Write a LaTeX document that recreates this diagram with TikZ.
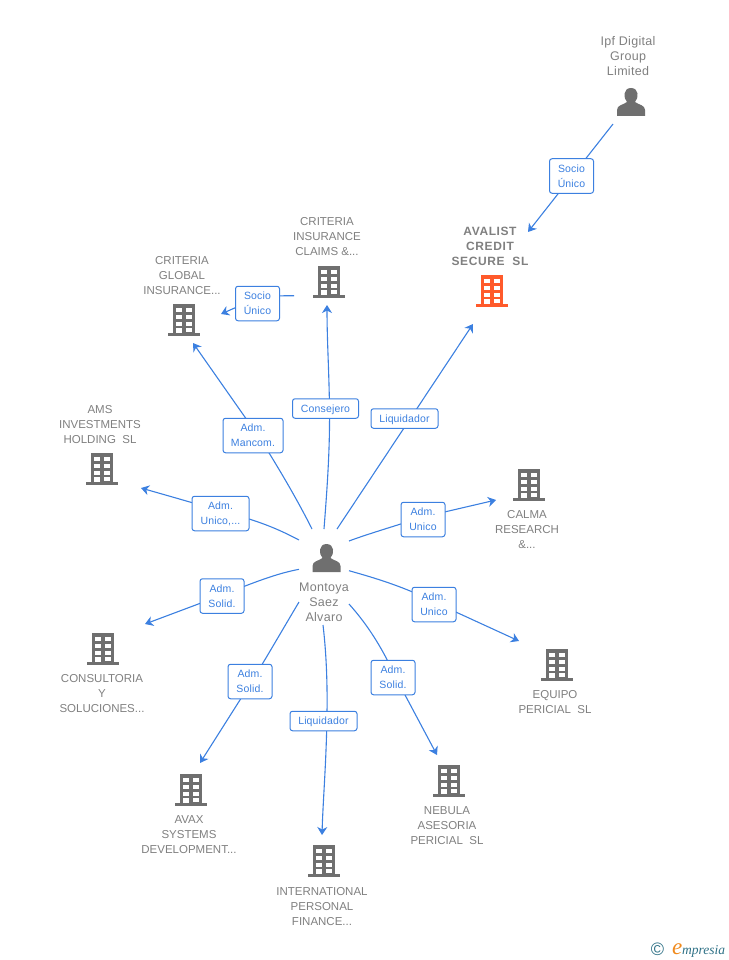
\documentclass[tikz,border=0pt]{standalone}
\usepackage{fontspec}
\setmainfont{Liberation Sans}
\newfontfamily\logofont{Liberation Serif}
\usetikzlibrary{arrows.meta}
\pgfdeclarelayer{edges}
\pgfsetlayers{edges,main}
\definecolor{linkblue}{HTML}{3C80E0}
\definecolor{labeltext}{HTML}{808080}
\definecolor{iconcol}{HTML}{6F6F6F}
\definecolor{mainicon}{HTML}{FF5A2B}
\definecolor{logoteal}{HTML}{2F7186}
\definecolor{logoorange}{HTML}{F08A1D}
\tikzset{
  x=1pt,y=-1pt,
  name text/.style={text=labeltext,yshift=-0.8pt,font=\fontsize{11.5}{15}\selectfont,align=center,inner sep=0pt},
  person text/.style={name text,font=\fontsize{12.5}{15}\selectfont\addfontfeatures{LetterSpace=2.5}},
  main text/.style={text=labeltext,yshift=-0.5pt,font=\fontsize{12}{15}\selectfont\bfseries\addfontfeatures{LetterSpace=5},align=center,inner sep=0pt},
  rel/.style={draw=linkblue,text=linkblue,fill=white,rounded corners=2.5pt,line width=1pt,
     font=\fontsize{10.5}{15}\selectfont\addfontfeatures{LetterSpace=1.5},align=center,inner sep=0pt,
     execute at begin node={\rule{0pt}{10pt}}},
  rel two/.style={rel,minimum width=44pt,minimum height=34.5pt},
  rel one/.style={rel,minimum width=66pt,minimum height=19.5pt},
  link/.style={draw=linkblue,line width=1.1pt,-{Stealth[length=8pt,width=10pt,inset=2.5pt]}},
  pics/building/.style={code={
    \fill[#1] (-11,-16) rectangle (11,13);
    \fill[#1] (-16,13) rectangle (16,16);
    \foreach \yy in {-12,-5,2}{
      \fill[white] (-8,\yy) rectangle (-2,\yy+4);
      \fill[white] (2,\yy) rectangle (8,\yy+4);}
    \fill[white] (2,8) rectangle (8,12);
    \fill[white] (-8,8) rectangle (-2,13);
  }},
  pics/person/.style={code={
    \fill[#1] (-14,14) -- (-14,8) .. controls (-14,3) and (-8,3) .. (-4,0)
      .. controls (-8,-4) and (-8,-14) .. (0,-14)
      .. controls (8,-14) and (8,-4) .. (4,0)
      .. controls (8,3) and (14,3) .. (14,8) -- (14,14) -- cycle;
  }},
}
\begin{document}
\begin{tikzpicture}
\useasboundingbox (0,0) rectangle (728,960);
% icons
\pic at (631,102) {person=iconcol};
\pic at (326.5,558) {person=iconcol};
\pic at (329,282) {building=iconcol};
\pic at (184,320) {building=iconcol};
\pic at (492,291) {building=mainicon};
\pic at (102,469) {building=iconcol};
\pic at (529,485) {building=iconcol};
\pic at (103,649) {building=iconcol};
\pic at (557,665) {building=iconcol};
\pic at (449,781) {building=iconcol};
\pic at (191,790) {building=iconcol};
\pic at (324,861) {building=iconcol};
% names
\node[person text] (ipf) at (628,55) {Ipf Digital\\Group\\Limited};
\node[main text] (avalist) at (490,246) {AVALIST\\CREDIT\\SECURE\ \ SL};
\node[name text] (claims) at (327,236) {CRITERIA\\INSURANCE\\CLAIMS \&...};
\node[name text] (global) at (182,275) {CRITERIA\\GLOBAL\\INSURANCE...};
\node[name text] (ams) at (100,424) {AMS\\INVESTMENTS\\HOLDING\ \ SL};
\node[name text] (calma) at (527,529) {CALMA\\RESEARCH\\\&...};
\node[name text] (consult) at (102,693) {CONSULTORIA\\Y\\SOLUCIONES...};
\node[name text] (equipo) at (555,701.5) {EQUIPO\\PERICIAL\ \ SL};
\node[name text] (nebula) at (447,825) {NEBULA\\ASESORIA\\PERICIAL\ \ SL};
\node[name text] (avax) at (189,834) {AVAX\\SYSTEMS\\DEVELOPMENT...};
\node[name text] (ipfin) at (322,906) {INTERNATIONAL\\PERSONAL\\FINANCE...};
\node[person text] (montoya) at (324,601) {Montoya\\Saez\\Alvaro};
% relation labels
\node[rel two] (r1) at (571.5,176) {Socio\\Único};
\node[rel two] (r2) at (257.5,303.5) {Socio\\Único};
\node[rel one] (r3) at (325.5,408.5) {Consejero};
\node[rel two,minimum width=60pt] (r4) at (253,435.5) {Adm.\\Mancom.};
\node[rel one,minimum width=67pt] (r5) at (404.5,418.5) {Liquidador};
\node[rel two] (r6) at (423,519.5) {Adm.\\Unico};
\node[rel two,minimum width=57pt] (r7) at (220.5,513.5) {Adm.\\Unico,...};
\node[rel two] (r8) at (222,596) {Adm.\\Solid.};
\node[rel two] (r9) at (250,681.5) {Adm.\\Solid.};
\node[rel one,minimum width=67pt] (r10) at (323.5,721) {Liquidador};
\node[rel two] (r11) at (393,677.5) {Adm.\\Solid.};
\node[rel two] (r12) at (434,604.5) {Adm.\\Unico};
% connector ends
\coordinate (s1) at (613,124);   \coordinate (t1) at (528,232);
\coordinate (s2) at (294,295.7); \coordinate (t2) at (221,314);
\coordinate (s3) at (324,529);   \coordinate (t3) at (327,305);
\coordinate (s4) at (312,529);   \coordinate (t4) at (193,343);
\coordinate (s5) at (337,529);   \coordinate (t5) at (473,324);
\coordinate (s6) at (349,541);   \coordinate (t6) at (496,500);
\coordinate (s7) at (299,540);   \coordinate (t7) at (141,488);
\coordinate (s8) at (299,569.3); \coordinate (t8) at (145,624);
\coordinate (s9) at (299,602);   \coordinate (t9) at (200,763);
\coordinate (s10) at (323,625);  \coordinate (t10) at (322,835);
\coordinate (s11) at (349,604);  \coordinate (t11) at (437,755);
\coordinate (s12) at (349,570.7);\coordinate (t12) at (519,641);
\begin{pgfonlayer}{edges}
\draw[link] (s1) -- (t1);
\draw[link] (s2) -- (262,296) -- (t2);
\draw[link] (s3) .. controls (327,490) and (330,450) .. (329.5,408) .. controls (329,370) and (327,340) .. (t3);
\draw[link] (s4) .. controls (300,505) and (283,475) .. (261,440) -- (t4);
\draw[link] (s5) -- (t5);
\draw[link] (s6) .. controls (365,535) and (385,529) .. (423,517) -- (t6);
\draw[link] (s7) .. controls (280,530) and (262,522) .. (230,513.5) -- (t7);
\draw[link] (s8) .. controls (280,573) and (262,579) .. (225,594) -- (t8);
\draw[link] (s9) .. controls (280,634) and (265,660) .. (252,681) -- (t9);
\draw[link] (s10) .. controls (326,650) and (327.5,680) .. (327,712) .. controls (326.5,760) and (323,800) .. (t10);
\draw[link] (s11) .. controls (365,622) and (380,643) .. (396,678) -- (t11);
\draw[link] (s12) .. controls (375,578) and (405,587) .. (434,602) -- (t12);
\end{pgfonlayer}
% logo
\node[inner sep=0pt,text=logoteal,font=\fontsize{18}{18}\selectfont] (copyr) at (657.5,949) {©};
\node[inner sep=0pt,anchor=base west,text=logoorange,font=\logofont\itshape\fontsize{23}{23}\selectfont] (loge) at (672,954) {e};
\node[inner sep=0pt,anchor=base west,text=logoteal,font=\logofont\itshape\fontsize{13.5}{14}\selectfont] (logt) at (682,954) {mpresia};
\end{tikzpicture}
\end{document}
